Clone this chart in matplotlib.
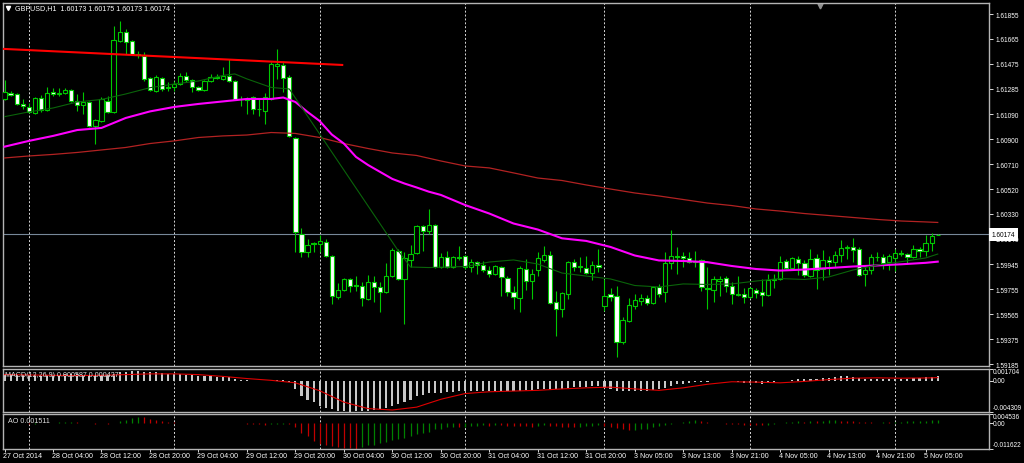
import matplotlib
matplotlib.use("Agg")
import matplotlib.pyplot as plt
from matplotlib.patches import Rectangle
from matplotlib.transforms import blended_transform_factory

plt.rcParams['font.family'] = ['Liberation Sans', 'DejaVu Sans']

# GBPUSD H1, 27 Oct 20:00 .. 5 Nov 06:00 (one entry per bar)
opens = [1.61207, 1.61253, 1.61245, 1.61169, 1.61146, 1.61100, 1.61215, 1.61123, 1.61260, 1.61245,
         1.61253, 1.61276, 1.61192, 1.61161, 1.61184, 1.61001, 1.61039, 1.61192, 1.61108, 1.61650,
         1.61718, 1.61650, 1.61550, 1.61535, 1.61367, 1.61268, 1.61367, 1.61299, 1.61299, 1.61321,
         1.61382, 1.61352, 1.61299, 1.61276, 1.61344, 1.61375, 1.61360, 1.61382, 1.61344, 1.61207,
         1.61207, 1.61222, 1.61131, 1.61115, 1.61207, 1.61459, 1.61466, 1.61375, 1.60909, 1.60177,
         1.60040, 1.60108, 1.60101, 1.60116, 1.60009, 1.59696, 1.59750, 1.59834, 1.59788, 1.59780,
         1.59681, 1.59811, 1.59773, 1.59735, 1.59856, 1.60047, 1.59834, 1.59979, 1.60032, 1.60238,
         1.60200, 1.60246, 1.59925, 1.60001, 1.59925, 1.60001, 1.60009, 1.59925, 1.59963, 1.59940,
         1.59902, 1.59872, 1.59925, 1.59841, 1.59735, 1.59689, 1.59910, 1.59818, 1.59902, 1.59979,
         1.60017, 1.59658, 1.59605, 1.59719, 1.59963, 1.59933, 1.59917, 1.59879, 1.59940, 1.59628,
         1.59719, 1.59704, 1.59353, 1.59513, 1.59628, 1.59666, 1.59689, 1.59650, 1.59773, 1.59735,
         1.59956, 1.60009, 1.60009, 1.59994, 1.59971, 1.59979, 1.59765, 1.59750, 1.59818, 1.59841,
         1.59780, 1.59719, 1.59719, 1.59696, 1.59750, 1.59735, 1.59712, 1.59826, 1.59834, 1.59971,
         1.59917, 1.59986, 1.59956, 1.59856, 1.59994, 1.59910, 1.59979, 1.59963, 1.60017, 1.60070,
         1.60078, 1.60062, 1.59872, 1.59902, 1.60001, 1.60001, 1.59963, 1.59994, 1.60032, 1.60024,
         1.60001, 1.60062, 1.60047, 1.60108, 1.60173]
highs = [1.61352, 1.61268, 1.61253, 1.61207, 1.61177, 1.61222, 1.61238, 1.61299, 1.61291, 1.61291,
         1.61291, 1.61283, 1.61245, 1.61260, 1.61192, 1.61054, 1.61222, 1.61230, 1.61764, 1.61802,
         1.61741, 1.61657, 1.61573, 1.61566, 1.61375, 1.61390, 1.61375, 1.61337, 1.61344, 1.61405,
         1.61413, 1.61360, 1.61306, 1.61352, 1.61398, 1.61398, 1.61451, 1.61512, 1.61352, 1.61230,
         1.61222, 1.61230, 1.61207, 1.61253, 1.61489, 1.61589, 1.61497, 1.61390, 1.60917, 1.60223,
         1.60139, 1.60116, 1.60169, 1.60139, 1.60017, 1.59803, 1.59841, 1.59841, 1.59856, 1.59811,
         1.59864, 1.59856, 1.59811, 1.59956, 1.60070, 1.60062, 1.60040, 1.60093, 1.60246, 1.60246,
         1.60368, 1.60253, 1.60032, 1.60047, 1.60009, 1.60085, 1.60017, 1.59986, 1.59971, 1.59971,
         1.59933, 1.59940, 1.59933, 1.59856, 1.59780, 1.59933, 1.59986, 1.59910, 1.60040, 1.60085,
         1.60047, 1.59742, 1.59735, 1.59971, 1.59986, 1.60001, 1.60009, 1.59971, 1.60062, 1.59834,
         1.59765, 1.59780, 1.59544, 1.59689, 1.59719, 1.59719, 1.59712, 1.59780, 1.59796, 1.60040,
         1.60208, 1.60078, 1.60040, 1.60040, 1.60047, 1.59986, 1.59925, 1.59856, 1.59856, 1.59856,
         1.59811, 1.59856, 1.59765, 1.59773, 1.59765, 1.59834, 1.59872, 1.59872, 1.60009, 1.59986,
         1.60001, 1.60009, 1.59979, 1.60062, 1.60024, 1.60055, 1.60009, 1.60047, 1.60131, 1.60093,
         1.60146, 1.60078, 1.59925, 1.60024, 1.60040, 1.60024, 1.60024, 1.60062, 1.60055, 1.60032,
         1.60093, 1.60078, 1.60169, 1.60185, 1.60175]
lows = [1.61199, 1.61230, 1.61161, 1.61131, 1.61100, 1.61093, 1.61108, 1.61115, 1.61230, 1.61230,
        1.61245, 1.61184, 1.61115, 1.61093, 1.60994, 1.60864, 1.61032, 1.61100, 1.61100, 1.61642,
        1.61550, 1.61543, 1.61520, 1.61344, 1.61268, 1.61260, 1.61268, 1.61268, 1.61268, 1.61314,
        1.61337, 1.61260, 1.61268, 1.61268, 1.61337, 1.61360, 1.61352, 1.61337, 1.61199, 1.61154,
        1.61093, 1.61093, 1.61077, 1.61016, 1.61199, 1.61360, 1.61260, 1.60917, 1.60040, 1.60001,
        1.60001, 1.60040, 1.60040, 1.60001, 1.59643, 1.59681, 1.59742, 1.59735, 1.59742, 1.59628,
        1.59673, 1.59658, 1.59582, 1.59727, 1.59849, 1.59826, 1.59490, 1.59925, 1.60024, 1.60047,
        1.60177, 1.59917, 1.59917, 1.59917, 1.59917, 1.59979, 1.59910, 1.59887, 1.59872, 1.59887,
        1.59849, 1.59864, 1.59704, 1.59704, 1.59605, 1.59582, 1.59750, 1.59681, 1.59856, 1.59963,
        1.59643, 1.59399, 1.59544, 1.59681, 1.59894, 1.59887, 1.59872, 1.59826, 1.59887, 1.59590,
        1.59666, 1.59239, 1.59338, 1.59506, 1.59605, 1.59635, 1.59635, 1.59643, 1.59696, 1.59658,
        1.59910, 1.59872, 1.59925, 1.59956, 1.59925, 1.59742, 1.59605, 1.59658, 1.59704, 1.59735,
        1.59643, 1.59704, 1.59650, 1.59689, 1.59689, 1.59628, 1.59704, 1.59765, 1.59826, 1.59910,
        1.59910, 1.59864, 1.59849, 1.59849, 1.59757, 1.59826, 1.59864, 1.59925, 1.59963, 1.59986,
        1.59963, 1.59856, 1.59780, 1.59872, 1.59971, 1.59910, 1.59902, 1.59894, 1.60009, 1.59948,
        1.59994, 1.60001, 1.60009, 1.60047, 1.60173]
closes = [1.61260, 1.61238, 1.61169, 1.61154, 1.61108, 1.61215, 1.61123, 1.61253, 1.61245, 1.61253,
          1.61276, 1.61192, 1.61161, 1.61184, 1.61001, 1.61047, 1.61207, 1.61108, 1.61657, 1.61718,
          1.61642, 1.61550, 1.61543, 1.61360, 1.61276, 1.61375, 1.61283, 1.61291, 1.61321, 1.61382,
          1.61352, 1.61299, 1.61276, 1.61344, 1.61375, 1.61367, 1.61382, 1.61344, 1.61207, 1.61203,
          1.61199, 1.61131, 1.61127, 1.61222, 1.61474, 1.61474, 1.61367, 1.60925, 1.60192, 1.60040,
          1.60093, 1.60104, 1.60124, 1.60009, 1.59704, 1.59750, 1.59834, 1.59780, 1.59780, 1.59689,
          1.59811, 1.59773, 1.59735, 1.59856, 1.60055, 1.59834, 1.59994, 1.60024, 1.60238, 1.60200,
          1.60246, 1.59925, 1.60001, 1.59925, 1.60001, 1.59994, 1.59925, 1.59963, 1.59940, 1.59902,
          1.59872, 1.59933, 1.59849, 1.59735, 1.59696, 1.59917, 1.59818, 1.59872, 1.59994, 1.60017,
          1.59650, 1.59605, 1.59727, 1.59963, 1.59925, 1.59925, 1.59879, 1.59940, 1.59925, 1.59704,
          1.59696, 1.59353, 1.59521, 1.59635, 1.59673, 1.59689, 1.59650, 1.59773, 1.59719, 1.59956,
          1.60009, 1.60005, 1.59994, 1.59963, 1.59963, 1.59773, 1.59757, 1.59834, 1.59834, 1.59780,
          1.59719, 1.59715, 1.59696, 1.59765, 1.59727, 1.59712, 1.59826, 1.59834, 1.59963, 1.59917,
          1.59994, 1.59956, 1.59864, 1.59986, 1.59902, 1.59979, 1.59963, 1.60017, 1.60070, 1.60078,
          1.60055, 1.59864, 1.59902, 1.60001, 1.60005, 1.59956, 1.60009, 1.60032, 1.60028, 1.60001,
          1.60062, 1.60047, 1.60108, 1.60162, 1.60174]

time_labels = ["27 Oct 2014", "28 Oct 04:00", "28 Oct 12:00", "28 Oct 20:00", "29 Oct 04:00",
               "29 Oct 12:00", "29 Oct 20:00", "30 Oct 04:00", "30 Oct 12:00", "30 Oct 20:00",
               "31 Oct 04:00", "31 Oct 12:00", "31 Oct 20:00", "3 Nov 05:00", "3 Nov 13:00",
               "3 Nov 21:00", "4 Nov 05:00", "4 Nov 13:00", "4 Nov 21:00", "5 Nov 05:00"]
day_starts = [4, 28, 52, 76, 99, 123, 147]   # bars at 00:00

# indicator lines, read every few bars
sample_bars = list(range(0, 153, 4)) + [154]
ma_slow = [1.60757, 1.60772, 1.60784, 1.60799, 1.60818, 1.60837, 1.60867, 1.60887, 1.60913, 1.60925,
           1.60932, 1.60951, 1.60944, 1.60913, 1.60867, 1.60829, 1.60795, 1.60776, 1.60734, 1.60696,
           1.60681, 1.60643, 1.60604, 1.60585, 1.60551, 1.60520, 1.60490, 1.60467, 1.60440, 1.60413,
           1.60394, 1.60368, 1.60352, 1.60333, 1.60318, 1.60303, 1.60288, 1.60276, 1.60269, 1.60265]
mid_bars = [0, 4, 8, 12, 16, 20, 24, 28, 32, 36, 40, 44, 46, 48, 50, 52, 54, 56, 58, 60, 62, 64, 66,
            68, 70, 72, 76, 80, 84, 88, 92, 96, 100, 104, 108, 112, 116, 120, 124, 128, 132, 136,
            140, 144, 148, 152, 154]
ma_mid = [1.60843, 1.60887, 1.60925, 1.60970, 1.60986, 1.61062, 1.61112, 1.61146, 1.61169, 1.61188,
          1.61207, 1.61207, 1.61218, 1.61184, 1.61108, 1.61039, 1.60936, 1.60867, 1.60765, 1.60703,
          1.60650, 1.60597, 1.60562, 1.60532, 1.60500, 1.60475, 1.60398, 1.60333, 1.60257, 1.60211,
          1.60144, 1.60124, 1.60078, 1.60013, 1.59975, 1.59971, 1.59962, 1.59933, 1.59910, 1.59898,
          1.59906, 1.59917, 1.59929, 1.59937, 1.59946, 1.59957, 1.59966]
fast_bars = [0, 4, 8, 12, 16, 20, 24, 28, 32, 36, 38, 40, 44, 47, 65, 67, 70, 76, 80, 84, 88, 92,
             96, 100, 104, 108, 112, 116, 120, 124, 128, 132, 136, 140, 144, 148, 152, 154]
ma_fast = [1.61072, 1.61108, 1.61138, 1.61184, 1.61203, 1.61245, 1.61293, 1.61321, 1.61344, 1.61386,
           1.61398, 1.61360, 1.61295, 1.61283, 1.60047, 1.59925, 1.59921, 1.59929, 1.59963, 1.59979,
           1.59948, 1.59879, 1.59856, 1.59834, 1.59784, 1.59773, 1.59796, 1.59792, 1.59796, 1.59818,
           1.59837, 1.59830, 1.59849, 1.59902, 1.59940, 1.59966, 1.59994, 1.60024]
trend_bars = [-0.25, 55.9]
trend_prices = [1.61589, 1.61466]

macd_main = [0.0009, 0.0009, 0.00085, 0.0008, 0.00075, 0.00075, 0.0007, 0.00075, 0.0008, 0.00085,
             0.0009, 0.0009, 0.0009, 0.00085, 0.0008, 0.00075, 0.0008, 0.0008, 0.001, 0.00115,
             0.00125, 0.0013, 0.0013, 0.00125, 0.0012, 0.00115, 0.0011, 0.001, 0.00095, 0.0009,
             0.00085, 0.0008, 0.0007, 0.00065, 0.0006, 0.00055, 0.0005, 0.00045, 0.0003, 0.00015,
             0.0001, 0.0, -0.0001, -0.0001, 0.0, 0.0001, 0.0001, -0.0002, -0.0011, -0.0022,
             -0.0027, -0.003, -0.0035, -0.0038, -0.004, -0.0042, -0.0043, -0.004309, -0.0043, -0.0043,
             -0.0042, -0.0041, -0.004, -0.0038, -0.0035, -0.0033, -0.003, -0.0027, -0.0022, -0.002,
             -0.0017, -0.0017, -0.0017, -0.0016, -0.0016, -0.0015, -0.0015, -0.0015, -0.0014, -0.0014,
             -0.0015, -0.0014, -0.0014, -0.0015, -0.0015, -0.0014, -0.0013, -0.0013, -0.0012, -0.0011,
             -0.0011, -0.0011, -0.0011, -0.001, -0.0009, -0.0009, -0.0009, -0.0008, -0.0008, -0.001,
             -0.0011, -0.0014, -0.0015, -0.0015, -0.0015, -0.0015, -0.0014, -0.0013, -0.0012, -0.001,
             -0.0007, -0.0005, -0.0004, -0.0003, -0.0002, -0.0002, -0.0002, -0.0001, 0.0, 0.0,
             -0.0001, -0.0002, -0.0003, -0.0003, -0.0003, -0.0004, -0.0003, -0.0002, -0.0001, 0.0,
             0.0001, 0.0002, 0.0002, 0.0003, 0.0003, 0.0004, 0.0004, 0.0005, 0.0006, 0.0006,
             0.0005, 0.0004, 0.0003, 0.0003, 0.0003, 0.0002, 0.0002, 0.0003, 0.0003, 0.0003,
             0.0004, 0.0004, 0.0005, 0.00055, 0.000587]
macd_signal = [0.00085, 0.0008, 0.00075, 0.00072, 0.00075, 0.00085, 0.00095, 0.00095, 0.00085, 0.0006,
               0.0003, 0.00005, -0.0003, -0.0014, -0.003, -0.0039, -0.0041, -0.0037, -0.0026, -0.0018,
               -0.00155, -0.00145, -0.00135, -0.00115, -0.001, -0.0009, -0.00115, -0.00135, -0.001, -0.0005,
               -0.00015, -0.0002, -0.0003, -0.0001, 0.00015, 0.00035, 0.0004, 0.00035, 0.00038, 0.000427]
ao = [0.0002, 0.0002, 0.0001, 0.0, -0.0001, -0.0001, 0.0, 0.0002, 0.0003, 0.0004,
      0.0005, 0.0005, 0.0004, 0.0003, 0.0001, -0.0001, -0.00005, -0.0002, 0.0001, 0.001,
      0.0017, 0.0024, 0.003, 0.0029, 0.0022, 0.0016, 0.0011, 0.0007, 0.0004, 0.0002,
      0.0003, 0.0002, 0.0001, 0.0002, 0.0001, 0.0002, 0.0003, 0.0002, 0.0001, 0.0002,
      -0.0002, -0.0003, -0.0004, -0.0006, -0.0003, -0.0002, -0.0001, -0.0003, -0.0015, -0.0043,
      -0.0058, -0.008, -0.0094, -0.01, -0.0104, -0.0108, -0.0112, -0.0114, -0.011622, -0.0107,
      -0.01, -0.0098, -0.0092, -0.0088, -0.0078, -0.0072, -0.0068, -0.006, -0.0048, -0.0045,
      -0.0038, -0.0028, -0.0026, -0.0019, -0.0017, -0.0019, -0.0018, -0.0013, -0.0011, -0.001,
      -0.0011, -0.0009, -0.001, -0.0011, -0.0012, -0.0013, -0.0014, -0.0015, -0.0012, -0.001,
      -0.0011, -0.0013, -0.0015, -0.0017, -0.0019, -0.0017, -0.0014, -0.0012, -0.001, -0.0013,
      -0.0017, -0.0022, -0.0027, -0.0032, -0.0031, -0.0028, -0.0024, -0.0019, -0.0014, -0.0008,
      -0.0002, 0.0003, 0.0008, 0.0012, 0.0014, 0.0011, 0.0007, 0.0003, 0.0001, -0.0001,
      -0.0003, -0.0005, -0.0006, -0.0007, -0.0008, -0.0009, -0.0006, -0.0003, 0.0, 0.0004,
      0.0007, 0.0009, 0.0008, 0.0011, 0.001, 0.0012, 0.0014, 0.0015, 0.0013, 0.0011,
      0.0009, 0.0007, 0.0005, 0.0004, 0.0003, 0.0005, 0.0004, 0.0006, 0.0008, 0.001,
      0.0011, 0.0012, 0.0013, 0.0014, 0.001511]

price_ticks = [1.61855, 1.61665, 1.61475, 1.61285, 1.61090, 1.60900, 1.60710, 1.60520, 1.60330,
               1.60140, 1.59945, 1.59755, 1.59565, 1.59375, 1.59185]
last_price = 1.60174
macd_range = (-0.004309, 0.001704)
ao_range = (-0.011622, 0.004536)

GREEN = '#00c800'
FRAME = '#b4b4b4'
W, H = 1024, 464

fig = plt.figure(figsize=(W / 100, H / 100), dpi=100, facecolor='black')


def panel(top, bottom, **kw):
    return fig.add_axes([3 / W, 1 - bottom / H, (989 - 3) / W, (bottom - top) / H], **kw)


ax = panel(4, 367)
axm = panel(369.5, 412.5, sharex=ax)
axa = panel(414.5, 449.5, sharex=ax)

for a in (ax, axm, axa):
    a.set_facecolor('black')
    for s in a.spines.values():
        s.set_color(FRAME)
        s.set_linewidth(1)
    for b in day_starts:
        a.axvline(b, color='#d8d8d8', lw=0.7, ls=(0, (2, 2)), zorder=0.5)
    a.yaxis.tick_right()
    a.tick_params(axis='y', colors='white', labelsize=4.7, length=3, width=0.6, pad=2)
    a.tick_params(axis='x', bottom=False, labelbottom=False)

ax.set_xlim(-0.25, 162.46)

# candles
n = len(closes)
for i in range(n):
    o, h, l, c = opens[i], highs[i], lows[i], closes[i]
    ax.vlines(i, l, h, color=GREEN, lw=0.8, zorder=3)
    if abs(c - o) < 0.00002:
        ax.hlines(o, i - 0.35, i + 0.35, color=GREEN, lw=0.8, zorder=4)
    else:
        ax.add_patch(Rectangle((i - 0.35, min(o, c)), 0.7, abs(c - o),
                               facecolor='white' if c < o else 'black',
                               edgecolor=GREEN, lw=0.8, zorder=4))

ax.axhline(last_price, color='#778899', lw=0.8, zorder=1)
ax.plot(sample_bars, ma_slow, color='#b22222', lw=0.9, zorder=5)
ax.plot(mid_bars, ma_mid, color='#ff00ff', lw=1.5, zorder=5)
ax.plot(fast_bars, ma_fast, color='#0a640a', lw=0.8, zorder=5)
ax.plot(trend_bars, trend_prices, color='#ff0000', lw=1.5, zorder=5, solid_capstyle='butt')

ax.set_ylim(1.59170, 1.61939)
ax.set_yticks(price_ticks)
ax.set_yticklabels([f"{p:.5f}" for p in price_ticks])
ax.text(1.003, last_price, f"{last_price:.5f}", transform=blended_transform_factory(ax.transAxes, ax.transData),
        ha='left', va='center', fontsize=4.7, color='black', zorder=10, clip_on=False,
        bbox=dict(boxstyle='square,pad=0.45', fc='white', ec='none'))

ax.plot([0.005], [0.987], marker='v', ms=3, color='white', transform=ax.transAxes, clip_on=False)
ax.text(0.012, 0.987, "GBPUSD,H1  1.60173 1.60175 1.60173 1.60174", transform=ax.transAxes,
        ha='left', va='center', fontsize=5.1, color='white')
ax.plot([134.6], [0.992], marker='v', ms=3.5, color='#909090',
        transform=blended_transform_factory(ax.transData, ax.transAxes), clip_on=False)

# MACD
axm.bar(range(n), macd_main, width=0.35, color='#c8c8c8', zorder=2)
axm.plot(sample_bars, macd_signal, color='#e00000', lw=0.8, zorder=3)
axm.set_ylim(*macd_range)
axm.set_yticks([macd_range[1], 0, macd_range[0]])
axm.set_yticklabels([])
tm = blended_transform_factory(axm.transAxes, axm.transData)
axm.text(1.004, macd_range[1], "0.001704", transform=tm, va='top', fontsize=4.7, color='white')
axm.text(1.004, 0, "0.00", transform=tm, va='center', fontsize=4.7, color='white')
axm.text(1.004, macd_range[0], "-0.004309", transform=tm, va='bottom', fontsize=4.7, color='white')
axm.text(0.002, 0.87, "MACD(12,26,9) 0.000587 0.000427", transform=axm.transAxes,
         ha='left', va='center', fontsize=5.1, color='#e0e0e0', zorder=6)

# Awesome oscillator
ao_colors = ['#008000' if i == 0 or ao[i] >= ao[i - 1] else '#c00000' for i in range(n)]
axa.vlines(range(n), 0, ao, colors=ao_colors, lw=0.9, zorder=2)
axa.set_ylim(*ao_range)
axa.set_yticks([ao_range[1], 0, ao_range[0]])
axa.set_yticklabels([])
ta = blended_transform_factory(axa.transAxes, axa.transData)
axa.text(1.004, ao_range[1], "0.004536", transform=ta, va='top', fontsize=4.7, color='white')
axa.text(1.004, 0, "0.00", transform=ta, va='center', fontsize=4.7, color='white')
axa.text(1.004, ao_range[0], "-0.011622", transform=ta, va='bottom', fontsize=4.7, color='white')
axa.text(0.005, 0.79, "AO 0.001511", transform=axa.transAxes,
         ha='left', va='center', fontsize=5.1, color='#e0e0e0', zorder=6)

# time axis
label_bars = list(range(0, 153, 8))
axa.set_xticks(label_bars)
axa.tick_params(axis='x', bottom=True, labelbottom=False, length=2, width=0.6, colors='white')
tx = blended_transform_factory(axa.transData, axa.transAxes)
for b, s in zip(label_bars, time_labels):
    axa.text(b - 0.2, -0.19, s, transform=tx, ha='left', va='center',
             fontsize=5.1, color='white', clip_on=False)

fig.savefig("out.png", dpi=100, facecolor='black')
